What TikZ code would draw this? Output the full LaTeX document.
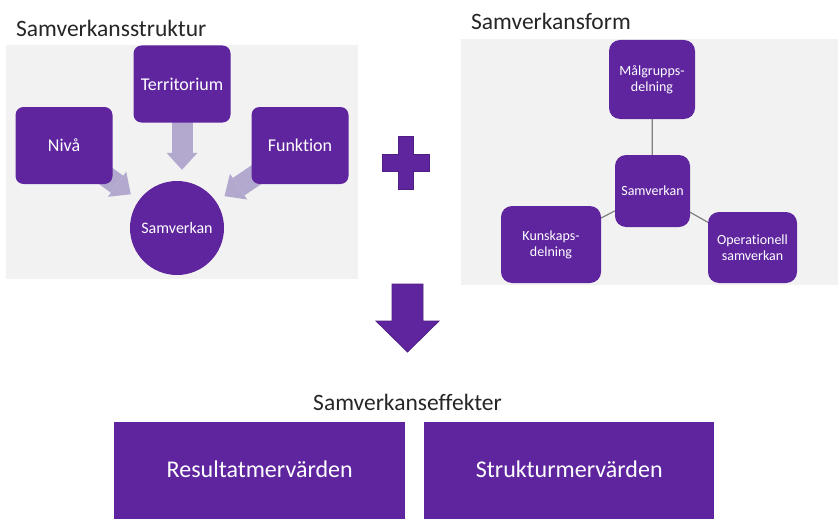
\documentclass[tikz,border=0pt]{standalone}
\usepackage{fontspec}
\setmainfont{Carlito}[Ligatures={NoCommon}]
\usetikzlibrary{arrows.meta}
\definecolor{purp}{HTML}{5F259F}
\definecolor{purpdark}{HTML}{4E1E85}
\definecolor{lightarr}{HTML}{B3A9CF}
\definecolor{panel}{HTML}{F2F2F2}
\definecolor{titletext}{HTML}{262626}
\definecolor{conn}{HTML}{7F7F7F}
\pgfdeclarelayer{bg}
\pgfdeclarelayer{mid}
\pgfsetlayers{bg,mid,main}
\begin{document}
\begin{tikzpicture}[x=1pt,y=-1pt,
  box/.style={fill=purp, text=white, inner sep=0pt, draw=none},
  lbox/.style={box, rounded corners=8pt, minimum width=97pt, minimum height=77pt, font=\fontsize{18}{20}\selectfont},
  rbox/.style={box, rounded corners=11pt, align=center, font=\fontsize{14}{16}\selectfont},
  title/.style={text=titletext, font=\fontsize{23.5}{26}\selectfont, inner sep=0pt},
  fatarrow/.style={draw=lightarr, line width=21pt, -{Triangle[width=31pt,length=17pt,line width=0pt]}},
  link/.style={draw=conn, line width=1.2pt},
  bigbox/.style={fill=purp, text=white, inner sep=0pt, font=\fontsize{24}{28}\selectfont},
  symb/.style={fill=purp, draw=purpdark, line width=0.8pt}
]
\useasboundingbox (0,0) rectangle (838,519);

% titles
\node[title, anchor=base west] (t1) at (16,37) {Samverkansstruktur};
\node[title, anchor=base west] (t2) at (471,30) {Samverkansform};
\node[title, anchor=base] (t3) at (407.5,410) {Samverkanseffekter};

% left panel nodes
\node[lbox] (terr) at (182,84) {Territorium};
\node[lbox] (niva) at (64,145.5) {Nivå};
\node[lbox] (funk) at (300,145.5) {Funktion};
\node[circle, fill=purp, text=white, minimum size=94pt, inner sep=0pt, font=\fontsize{16}{18}\selectfont] (circ) at (177,228) {Samverkan};

% right panel nodes
\node[rbox, minimum width=86pt, minimum height=79pt] (malg) at (652,79.5) {Målgrupps-\\delning};
\node[rbox, minimum width=75pt, minimum height=72pt] (samv) at (652.5,191) {Samverkan};
\node[rbox, minimum width=100pt, minimum height=77pt] (kuns) at (551,244.5) {Kunskaps-\\delning};
\node[rbox, minimum width=89pt, minimum height=71pt] (oper) at (752.5,247.5) {Operationell\\samverkan};

% bottom boxes
\node[bigbox, anchor=north west, minimum width=291pt, minimum height=97pt] (res) at (114,422) {\raisebox{3pt}{Resultatmervärden}};
\node[bigbox, anchor=north west, minimum width=290pt, minimum height=97pt] (str) at (424,422) {\raisebox{3pt}{Strukturmervärden}};

\begin{pgfonlayer}{bg}
  \fill[white] (0,0) rectangle (838,519);
  \fill[panel] (6,45) rectangle (358,279);
  \fill[panel] (461,39) rectangle (838,285);
\end{pgfonlayer}

\begin{pgfonlayer}{mid}
  \draw[fatarrow, shorten >=11pt] (terr.center) -- (terr.center |- circ.north);
  \draw[fatarrow, shorten >=10pt] (niva.center) -- (circ);
  \draw[fatarrow, shorten >=10pt] (funk.center) -- (circ);
  \draw[link] (malg) -- (samv);
  \draw[link] (kuns) -- (samv);
  \draw[link] (samv) -- (oper);
\end{pgfonlayer}

% plus sign
\filldraw[symb] (398,136) -- (413,136) -- (413,154) -- (429,154) -- (429,171) -- (413,171) -- (413,189) -- (398,189) -- (398,171) -- (382,171) -- (382,154) -- (398,154) -- cycle;
% down arrow
\filldraw[symb] (392,284) -- (423,284) -- (423,321) -- (439,321) -- (407.5,352) -- (376,321) -- (392,321) -- cycle;
\end{tikzpicture}
\end{document}
